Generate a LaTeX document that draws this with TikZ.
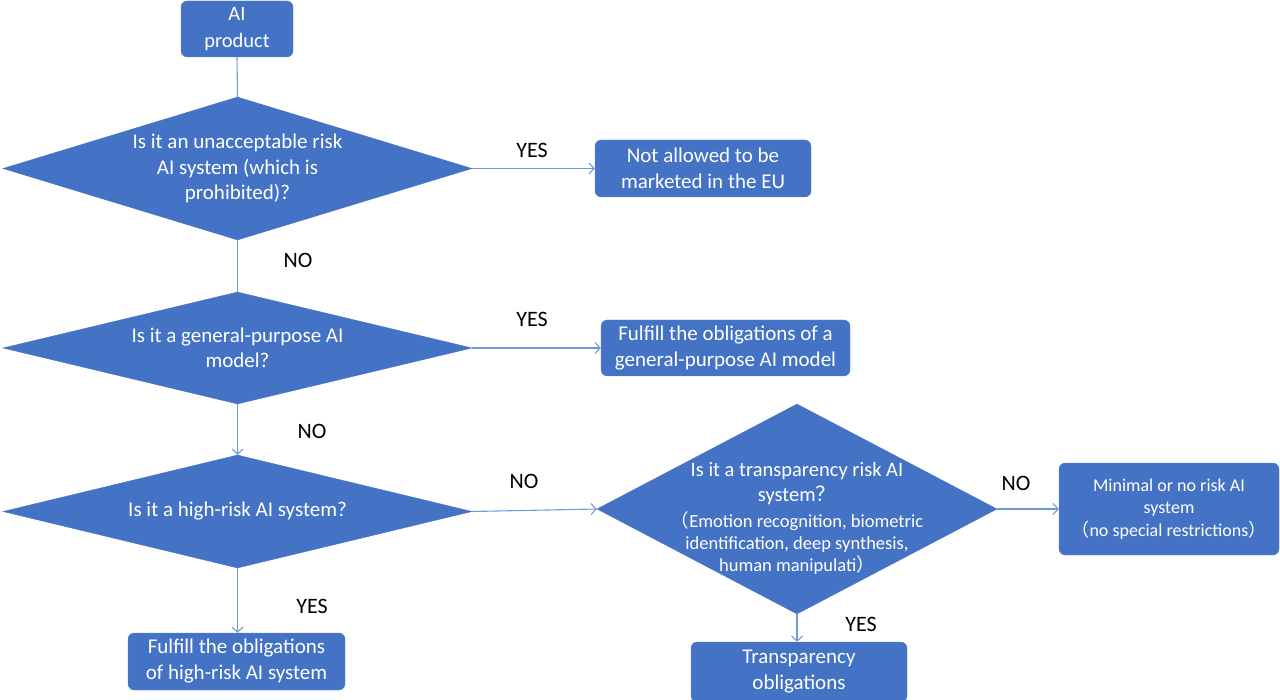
\documentclass[tikz,border=0pt]{standalone}
\usepackage{fontspec}
\setmainfont{Carlito}
\newfontfamily\cjk{Noto Sans CJK SC}
\usetikzlibrary{shapes.geometric,arrows.meta}
\definecolor{boxblue}{HTML}{4472C4}
\definecolor{lineblue}{HTML}{7298DE}
\newcommand{\cjkch}[1]{{\cjk #1}}
\tikzset{
  box/.style={draw=boxblue!85!white, fill=boxblue, rounded corners=6pt, text=white,
    inner sep=0pt, align=center, font=\fontsize{21}{26}\selectfont},
  dia/.style={diamond, draw=boxblue, fill=boxblue, text=white, inner sep=0pt,
    align=center, font=\fontsize{21}{25.5}\selectfont},
  conn/.style={draw=lineblue, line width=1.1pt},
  arr/.style={conn, -{Straight Barb[length=5pt,width=11pt,line width=1.1pt]}},
  lab/.style={text=black, font=\fontsize{22}{24}\selectfont}
}
\begin{document}
\begin{tikzpicture}[x=1pt,y=-1pt]
\useasboundingbox (0,0) rectangle (1280,700);
% boxes
\node[box, minimum width=112pt, minimum height=56pt, font=\fontsize{20.5}{27}\selectfont] (prod) at (237,29) {AI\\product};
\node[box, minimum width=216pt, minimum height=57pt] (ban) at (703,168.5) {Not allowed to be\\marketed in the EU};
\node[box, minimum width=249pt, minimum height=56pt] (gpo) at (725.5,348) {Fulfill the obligations of a\\general-purpose AI model};
\node[box, minimum width=217pt, minimum height=57pt] (hro) at (236.5,661.5) {Fulfill the obligations\\of high-risk AI system};
\node[box, minimum width=216pt, minimum height=60pt] (tro) at (799,672) {Transparency\\obligations};
\node[box, minimum width=220pt, minimum height=92pt, font=\fontsize{18}{22.5}\selectfont] (mini) at (1169,509) {Minimal or no risk AI\\system\\\cjkch{（}no special restrictions\cjkch{）}};
% diamonds
\node[dia, aspect=3.28, minimum width=469pt, minimum height=143pt] (d1) at (237.5,168.5) {Is it an unacceptable risk\\AI system (which is\\prohibited)?};
\node[dia, aspect=4.19, minimum width=469pt, minimum height=112pt] (d2) at (237.5,348) {Is it a general-purpose AI\\model?};
\node[dia, aspect=4.15, minimum width=469pt, minimum height=113pt] (d3) at (237.5,511.5) {Is it a high-risk AI system?};
\node[dia, aspect=1.9, minimum width=400pt, minimum height=210pt] (d4) at (797,509) {};
\node[text=white, inner sep=0pt, align=center, font=\fontsize{20.5}{25}\selectfont] (d4a) at (797,483.5)
  {Is it a transparency risk AI\\system\cjkch{？}};
\node[text=white, inner sep=0pt, align=center, font=\fontsize{18.5}{22}\selectfont] (d4b) at (797,543)
  {\cjkch{（}Emotion recognition, biometric\\identification, deep synthesis,\\human manipulati\cjkch{）}};
% connectors
\draw[conn] (prod.south) -- (d1.north);
\draw[arr] (d1.east) -- (ban.west);
\draw[conn] (d1.south) -- (d2.north);
\draw[arr] (d2.east) -- (gpo.west);
\draw[arr] (d2.south) -- (d3.north);
\draw[arr] (d3.east) -- (d4.west);
\draw[arr] (d4.east) -- (mini.west);
\draw[arr] (d4.south) -- (d4.south |- tro.north);
\draw[arr] (d3.south) -- (d3.south |- hro.north);
% labels
\node[lab] (l1) at (532,150) {YES};
\node[lab] (l2) at (298,260) {NO};
\node[lab] (l3) at (532,319) {YES};
\node[lab] (l4) at (312,431) {NO};
\node[lab] (l5) at (524,481) {NO};
\node[lab] (l6) at (312,606) {YES};
\node[lab] (l7) at (1016,483) {NO};
\node[lab] (l8) at (861,624) {YES};
\end{tikzpicture}
\end{document}
